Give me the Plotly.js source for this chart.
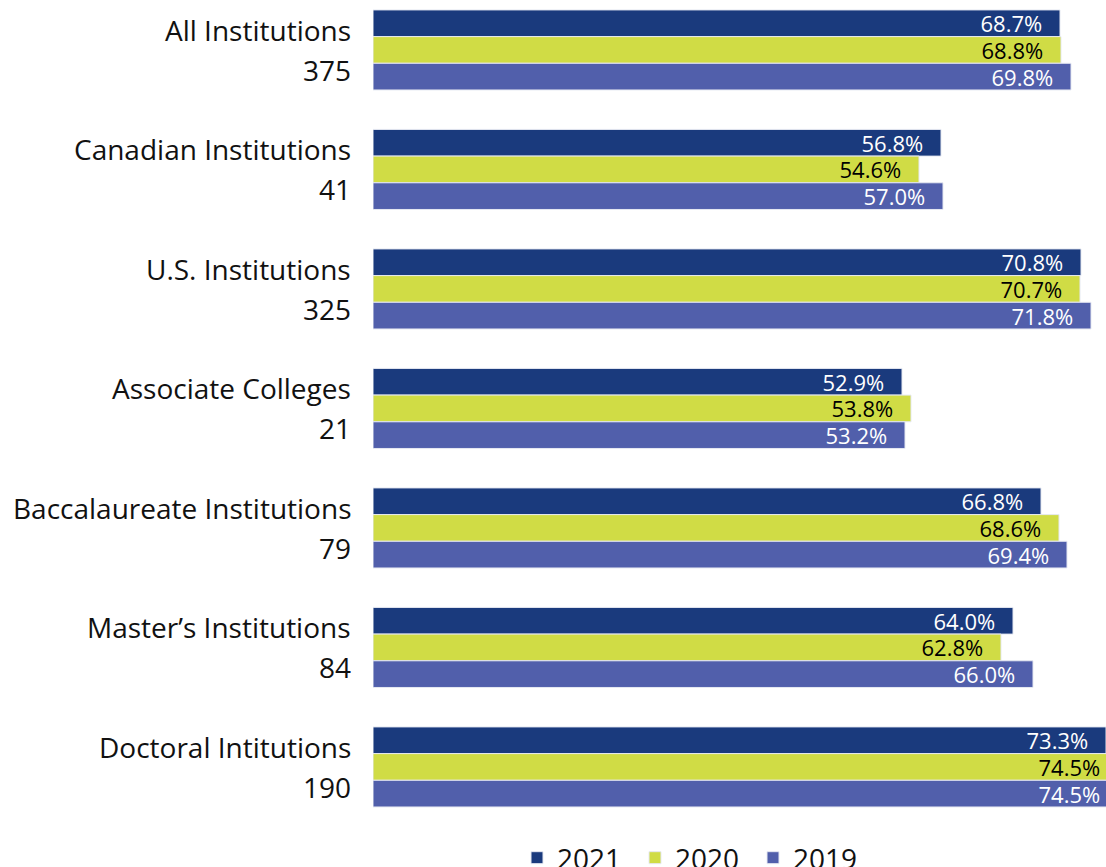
<!DOCTYPE html>
<html>
<head>
<meta charset="utf-8">
<script src="https://cdn.plot.ly/plotly-3.0.1.min.js"></script>
<style>
  body { margin: 0; background: #fff; overflow: hidden; }
  #plotArea { width: 1106px; height: 867px; }
</style>
</head>
<body>
<div id="plotArea"></div>
<script>
// categories and counts
var categories = ['All Institutions', 'Canadian Institutions', 'U.S. Institutions',
  'Associate Colleges', 'Baccalaureate Institutions', "Master\u2019s Institutions", 'Doctoral Intitutions'];
var counts = ['375', '41', '325', '21', '79', '84', '190'];

// percentages per year
var y2021 = [68.7, 56.8, 70.8, 52.9, 66.8, 64.0, 73.3];
var y2020 = [68.8, 54.6, 70.7, 53.8, 68.6, 62.8, 74.5];
var y2019 = [69.8, 57.0, 71.8, 53.2, 69.4, 66.0, 74.5];

var pad = '\u2007\u200a';

function makeTrace(name, vals, color, textColor) {
  return {
    type: 'bar',
    orientation: 'h',
    name: name,
    y: categories,
    x: vals,
    text: vals.map(function (v) { return v.toFixed(1) + '%' + pad; }),
    textposition: 'inside',
    insidetextanchor: 'end',
    constraintext: 'none',
    textfont: {family: 'Open Sans', size: 22, color: textColor},
    marker: {color: color, line: {color: '#e6e9f2', width: 1}},
    hoverinfo: 'skip'
  };
}

var data = [
  makeTrace('2021', y2021, '#1a3a7d', '#ffffff'),
  makeTrace('2020', y2020, '#d0dc45', '#000000'),
  makeTrace('2019', y2019, '#515fab', '#ffffff')
];

// two-line category labels
var annotations = [];
categories.forEach(function (c, i) {
  annotations.push({
    xref: 'paper', yref: 'y', x: 0, y: c, xanchor: 'right', yanchor: 'middle',
    xshift: -20, yshift: 20, showarrow: false, text: c,
    font: {family: 'Open Sans', size: 28, color: '#111'}
  });
  annotations.push({
    xref: 'paper', yref: 'y', x: 0, y: c, xanchor: 'right', yanchor: 'middle',
    xshift: -20, yshift: -20, showarrow: false, text: counts[i],
    font: {family: 'Open Sans', size: 28, color: '#111'}
  });
});

var layout = {
  width: 1106,
  height: 867,
  margin: {l: 373, r: 0, t: 0, b: 47},
  barmode: 'group',
  bargap: 0.33,
  bargroupgap: 0,
  paper_bgcolor: '#ffffff',
  plot_bgcolor: '#ffffff',
  font: {family: 'Open Sans', color: '#111'},
  xaxis: {range: [0, 73.3], visible: false, fixedrange: true},
  yaxis: {
    type: 'category',
    categoryorder: 'array',
    categoryarray: categories,
    range: [6.444, -0.418],
    showticklabels: false,
    showgrid: false,
    zeroline: false,
    showline: false,
    ticks: ''
  },
  showlegend: true,
  legend: {
    orientation: 'h',
    xref: 'container', yref: 'container',
    x: 0.6275, xanchor: 'center',
    y: 0.0104, yanchor: 'middle',
    traceorder: 'normal',
    entrywidth: 73,
    font: {family: 'Open Sans', size: 28, color: '#111'}
  },
  annotations: annotations
};

Plotly.newPlot('plotArea', data, layout, {displayModeBar: false, staticPlot: true});
</script>
</body>
</html>
